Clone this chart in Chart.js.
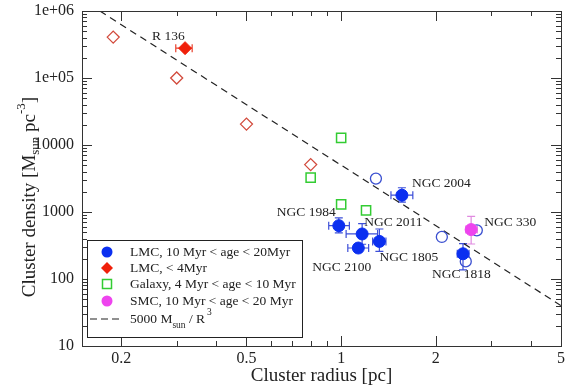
<!DOCTYPE html>
<html>
<head>
<meta charset="utf-8">
<script src="https://cdn.jsdelivr.net/npm/chart.js@4"></script>
<style>
	body { margin: 0; background: #fff; }
	.chart { width: 570px; height: 390px; }
</style>
</head>
<body>
<div class="chart"><canvas id="c"></canvas></div>
<script>
// LMC, 10 Myr < age < 20 Myr (filled, with error bars)
const lmcNames = ["NGC 2004", "NGC 1984", "NGC 2011", "NGC 2100", "NGC 1805", "NGC 1818"];
const lmcR = [1.56, 0.983, 1.166, 1.134, 1.323, 2.44];
const lmcRho = [1780, 625, 470, 290, 364, 238];
const lmcRLo = [1.44, 0.913, 1.037, 1.05, 1.259, 2.34];
const lmcRHi = [1.69, 1.062, 1.306, 1.223, 1.388, 2.55];
const lmcRhoLo = [1400, 487, 330, 262, 258, 137];
const lmcRhoHi = [2300, 817, 670, 318, 558, 337];

// open blue circles
const openR = [1.29, 2.09, 2.70, 2.49];
const openRho = [3150, 424, 532, 183];

// LMC < 4 Myr (R 136)
const r136R = [0.319];
const r136Rho = [2.79e5];
const r136RLo = [0.298];
const r136RHi = [0.336];

// open red diamonds
const youngR = [0.1885, 0.3, 0.5, 0.8];
const youngRho = [4.08e5, 1.0e5, 2.05e4, 5100];

// Galaxy, 4 Myr < age < 10 Myr
const galR = [0.8, 1.0, 1.0, 1.2];
const galRho = [3250, 12800, 1300, 1060];

// SMC, NGC 330
const smcR = [2.59];
const smcRho = [546];
const smcRLo = [2.49];
const smcRHi = [2.71];
const smcRhoLo = [333];
const smcRhoHi = [863];

// 5000 Msun / R^3 line end points
const lineR = [0.171, 5];
const lineRho = [1e6, 40];

const xMajor = [0.2, 0.5, 1, 2, 5];
const xMinor = [0.3, 0.4, 0.6, 0.7, 0.8, 0.9, 3, 4];
const yMajor = [10, 100, 1000, 10000, 1e5, 1e6];

const labelPos = [
	{ text: "R 136", r: 0.319, rho: 2.79e5, dx: -33, dy: -12 },
	{ text: "NGC 2004", r: 1.56, rho: 1780, dx: 10, dy: -12 },
	{ text: "NGC 1984", r: 0.983, rho: 625, dx: -62, dy: -13 },
	{ text: "NGC 2011", r: 1.166, rho: 470, dx: 2, dy: -12 },
	{ text: "NGC 2100", r: 1.134, rho: 290, dx: -46, dy: 19 },
	{ text: "NGC 1805", r: 1.323, rho: 364, dx: 0, dy: 16 },
	{ text: "NGC 1818", r: 2.44, rho: 238, dx: -31, dy: 21 },
	{ text: "NGC 330", r: 2.59, rho: 546, dx: 13, dy: -7 }
];

const pts = (xs, ys) => xs.map((x, i) => ({ x: x, y: ys[i] }));
const serif = "'Liberation Serif', 'DejaVu Serif', serif";

const extras = {
	id: "extras",
	beforeDatasetsDraw(chart) {
		const ctx = chart.ctx, sx = chart.scales.x, sy = chart.scales.y;
		const bar = (xs, ys, lo, hi, horiz, color) => {
			ctx.save();
			ctx.strokeStyle = color;
			ctx.lineWidth = 1.2;
			xs.forEach((x, i) => {
				const px = sx.getPixelForValue(x), py = sy.getPixelForValue(ys[i]);
				ctx.beginPath();
				if (horiz) {
					const a = sx.getPixelForValue(lo[i]), b = sx.getPixelForValue(hi[i]);
					ctx.moveTo(a, py); ctx.lineTo(b, py);
					ctx.moveTo(a, py - 4); ctx.lineTo(a, py + 4);
					ctx.moveTo(b, py - 4); ctx.lineTo(b, py + 4);
				} else {
					const a = sy.getPixelForValue(lo[i]), b = sy.getPixelForValue(hi[i]);
					ctx.moveTo(px, a); ctx.lineTo(px, b);
					ctx.moveTo(px - 4, a); ctx.lineTo(px + 4, a);
					ctx.moveTo(px - 4, b); ctx.lineTo(px + 4, b);
				}
				ctx.stroke();
			});
			ctx.restore();
		};
		bar(lmcR, lmcRho, lmcRLo, lmcRHi, true, "#3d4fd8");
		bar(lmcR, lmcRho, lmcRhoLo, lmcRhoHi, false, "#3d4fd8");
		bar(r136R, r136Rho, r136RLo, r136RHi, true, "#e8402c");
		bar(smcR, smcRho, smcRLo, smcRHi, true, "#e08ae0");
		bar(smcR, smcRho, smcRhoLo, smcRhoHi, false, "#e08ae0");
	},
	afterDraw(chart) {
		const ctx = chart.ctx, sx = chart.scales.x, sy = chart.scales.y;
		const a = chart.chartArea;
		ctx.save();
		// frame
		ctx.strokeStyle = "#333";
		ctx.lineWidth = 1;
		ctx.strokeRect(Math.round(a.left) + 0.5, Math.round(a.top) + 0.5, Math.round(a.right - a.left), Math.round(a.bottom - a.top));
		// ticks, inward on all four sides
		const xt = (v, len) => {
			const p = Math.round(sx.getPixelForValue(v)) + 0.5;
			ctx.beginPath();
			ctx.moveTo(p, a.bottom); ctx.lineTo(p, a.bottom - len);
			ctx.moveTo(p, a.top); ctx.lineTo(p, a.top + len);
			ctx.stroke();
		};
		const yt = (v, len) => {
			const p = Math.round(sy.getPixelForValue(v)) + 0.5;
			ctx.beginPath();
			ctx.moveTo(a.left, p); ctx.lineTo(a.left + len, p);
			ctx.moveTo(a.right, p); ctx.lineTo(a.right - len, p);
			ctx.stroke();
		};
		xMajor.forEach(v => xt(v, 10));
		xMinor.forEach(v => xt(v, 5));
		yMajor.forEach(v => yt(v, 10));
		yMajor.slice(0, -1).forEach(d => { for (let k = 2; k <= 9; k++) yt(d * k, 5); });

		// point labels
		ctx.fillStyle = "#222";
		ctx.font = "13.5px " + serif;
		ctx.textBaseline = "middle";
		labelPos.forEach(l => {
			ctx.fillText(l.text, sx.getPixelForValue(l.r) + l.dx, sy.getPixelForValue(l.rho) + l.dy);
		});

		// legend
		const L = 87, T = 240, R = 302, B = 337;
		ctx.fillStyle = "#fff";
		ctx.fillRect(L, T, R - L, B - T);
		ctx.strokeStyle = "#222";
		ctx.lineWidth = 1;
		ctx.strokeRect(L + 0.5, T + 0.5, R - L, B - T);
		const mx = 107, tx = 130;
		const rows = [252, 268, 284, 301, 319];
		ctx.fillStyle = "#0b2ff0";
		ctx.beginPath(); ctx.arc(mx, rows[0], 5.5, 0, Math.PI * 2); ctx.fill();
		ctx.fillStyle = "#f0200a";
		ctx.beginPath(); ctx.moveTo(mx - 6, rows[1]); ctx.lineTo(mx, rows[1] - 6); ctx.lineTo(mx + 6, rows[1]); ctx.lineTo(mx, rows[1] + 6); ctx.closePath(); ctx.fill();
		ctx.strokeStyle = "#33cc33"; ctx.lineWidth = 1.5;
		ctx.strokeRect(mx - 4.5, rows[2] - 4.5, 9, 9);
		ctx.fillStyle = "#ee44ee";
		ctx.beginPath(); ctx.arc(mx, rows[3], 5.5, 0, Math.PI * 2); ctx.fill();
		ctx.strokeStyle = "#222"; ctx.lineWidth = 1.2;
		ctx.setLineDash([7, 4]);
		ctx.beginPath(); ctx.moveTo(90, rows[4]); ctx.lineTo(121, rows[4]); ctx.stroke();
		ctx.setLineDash([]);

		ctx.fillStyle = "#222";
		ctx.font = "13.5px " + serif;
		ctx.textBaseline = "middle";
		ctx.textAlign = "left";
		ctx.fillText("LMC, 10 Myr < age < 20Myr", tx, rows[0]);
		ctx.fillText("LMC, < 4Myr", tx, rows[1]);
		ctx.fillText("Galaxy, 4 Myr < age < 10 Myr", tx, rows[2]);
		ctx.fillText("SMC, 10 Myr < age < 20 Myr", tx, rows[3]);
		let x = tx;
		ctx.fillText("5000 M", x, rows[4]); x += ctx.measureText("5000 M").width;
		ctx.font = "9.5px " + serif;
		ctx.fillText("sun", x, rows[4] + 6); x += ctx.measureText("sun").width;
		ctx.font = "13.5px " + serif;
		ctx.fillText(" / R", x, rows[4]); x += ctx.measureText(" / R").width + 2;
		ctx.font = "9.5px " + serif;
		ctx.fillText("3", x, rows[4] - 7);

		// axis titles
		ctx.font = "19px " + serif;
		ctx.textAlign = "center";
		ctx.textBaseline = "middle";
		ctx.fillText("Cluster radius [pc]", (a.left + a.right) / 2, 376);

		const big = "19px " + serif, small = "13px " + serif;
		const parts = [
			["Cluster density [M", big, 0],
			["sun", small, 6],
			[" pc", big, 0],
			["-3", small, -8],
			["]", big, 0]
		];
		let w = 0;
		parts.forEach(p => { ctx.font = p[1]; w += ctx.measureText(p[0]).width; });
		ctx.translate(30, 197);
		ctx.rotate(-Math.PI / 2);
		ctx.textAlign = "left";
		let px = -w / 2;
		parts.forEach(p => {
			ctx.font = p[1];
			ctx.fillText(p[0], px, p[2]);
			px += ctx.measureText(p[0]).width;
		});
		ctx.restore();
	}
};

new Chart(document.getElementById("c"), {
	type: "scatter",
	data: {
		datasets: [
			{
				data: pts(smcR, smcRho),
				pointStyle: "circle", pointRadius: 6,
				backgroundColor: "#ee44ee", borderColor: "#ee44ee"
			},
			{
				data: pts(lmcR, lmcRho),
				pointStyle: "circle", pointRadius: 6,
				backgroundColor: "#0b2ff0", borderColor: "#0b2ff0"
			},
			{
				data: pts(r136R, r136Rho),
				pointStyle: "rectRot", pointRadius: 6.5,
				backgroundColor: "#f0200a", borderColor: "#f0200a"
			},
			{
				data: pts(openR, openRho),
				pointStyle: "circle", pointRadius: 5.5, borderWidth: 1.3,
				backgroundColor: "rgba(0,0,0,0)", borderColor: "#3a4fd0"
			},
			{
				data: pts(youngR, youngRho),
				pointStyle: "rectRot", pointRadius: 6, borderWidth: 1.3,
				backgroundColor: "rgba(0,0,0,0)", borderColor: "#d24a3c"
			},
			{
				data: pts(galR, galRho),
				pointStyle: "rect", pointRadius: 6.5, borderWidth: 1.5,
				backgroundColor: "rgba(0,0,0,0)", borderColor: "#33cc33"
			},
			{
				type: "line",
				data: pts(lineR, lineRho),
				showLine: true, pointRadius: 0,
				borderColor: "#222", borderWidth: 1.2, borderDash: [7, 5]
			}
		]
	},
	options: {
		responsive: true,
		maintainAspectRatio: false,
		animation: false,
		layout: { padding: { top: 11, right: 9, left: 0, bottom: 0 } },
		plugins: { legend: { display: false }, tooltip: { enabled: false } },
		scales: {
			x: {
				type: "logarithmic",
				min: 0.15, max: 5,
				grid: { display: false, drawTicks: false },
				border: { display: false },
				afterBuildTicks: s => { s.ticks = xMajor.map(v => ({ value: v })); },
				afterFit: s => { s.height = 44; s.paddingLeft = 0; s.paddingRight = 0; },
				ticks: {
					padding: 3,
					color: "#222",
					font: { family: serif, size: 16 },
					maxRotation: 0,
					callback: v => String(v)
				}
			},
			y: {
				type: "logarithmic",
				min: 10, max: 1e6,
				grid: { display: false, drawTicks: false },
				border: { display: false },
				afterBuildTicks: s => { s.ticks = yMajor.map(v => ({ value: v })); },
				afterFit: s => { s.width = 82; s.paddingTop = 0; s.paddingBottom = 0; },
				ticks: {
					padding: 8,
					color: "#222",
					font: { family: serif, size: 16 },
					callback: v => v >= 1e5 ? "1e+0" + Math.round(Math.log10(v)) : String(v)
				}
			}
		}
	},
	plugins: [extras]
});
</script>
</body>
</html>
